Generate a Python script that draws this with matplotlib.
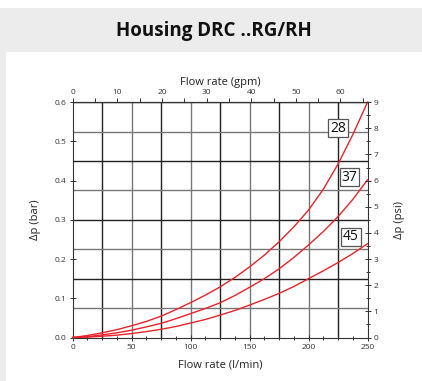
"""
Pressure drop chart: Housing DRC ..RG/RH
"""

import matplotlib

matplotlib.use("Agg")

import matplotlib.pyplot as plt
import numpy as np
from matplotlib.patches import Rectangle
from matplotlib.ticker import MultipleLocator, FormatStrFormatter

plt.rcParams["font.family"] = ["Open Sans", "DejaVu Sans"]

TITLE = "Housing DRC ..RG/RH"

flow_lpm = [0, 12.5, 25, 37.5, 50, 62.5, 75, 87.5, 100, 112.5, 125,
            137.5, 150, 162.5, 175, 187.5, 200, 212.5, 225, 237.5, 250]

# pressure drop (bar) per housing size
dp_28 = [0, 0.005, 0.012, 0.020, 0.030, 0.041, 0.0545, 0.071, 0.089, 0.108, 0.129,
         0.153, 0.180, 0.210, 0.244, 0.282, 0.325, 0.378, 0.442, 0.517, 0.600]
dp_37 = [0, 0.002, 0.0067, 0.012, 0.0187, 0.027, 0.036, 0.048, 0.061, 0.074, 0.0885,
         0.107, 0.128, 0.150, 0.175, 0.204, 0.236, 0.270, 0.308, 0.352, 0.402]
dp_45 = [0, 0.001, 0.0033, 0.006, 0.010, 0.015, 0.021, 0.028, 0.037, 0.046, 0.057,
         0.069, 0.0826, 0.097, 0.1125, 0.130, 0.150, 0.170, 0.191, 0.214, 0.239]

curve_names = ["28", "37", "45"]
# label box positions (l/min, bar)
label_x = [225, 234.5, 236]
label_y = [0.534, 0.409, 0.257]

RED = "#e8232b"
BG = "#ececec"
INK = "#333333"


def main() -> None:
    fig = plt.figure(figsize=(4.22, 3.81), dpi=100)
    fig.patch.set_facecolor("white")

    # header band and left strip
    fig.add_artist(Rectangle((0, 1 - 52 / 381), 1, 44 / 381, transform=fig.transFigure,
                             facecolor=BG, edgecolor="none", zorder=0))
    fig.add_artist(Rectangle((0, 0), 6 / 422, 1 - 52 / 381, transform=fig.transFigure,
                             facecolor=BG, edgecolor="none", zorder=0))
    fig.text(0.507, 1 - 31 / 381, TITLE, ha="center", va="center",
             fontsize=13.5, fontweight="bold", color="#111111")

    ax = fig.add_axes([72.7 / 422, 1 - 337.5 / 381, 294.8 / 422, 235.3 / 381])

    # grid: alternating dark / grey lines
    for i, x in enumerate(np.arange(25, 250, 25)):
        ax.axvline(x, color="#222222" if i % 2 == 0 else "#777777", lw=1.0, zorder=1)
    for i, y in enumerate(np.arange(0.075, 0.6, 0.075)):
        ax.axhline(y, color="#777777" if i % 2 == 0 else "#222222", lw=1.0, zorder=1)

    for dp in (dp_28, dp_37, dp_45):
        ax.plot(flow_lpm, dp, color=RED, lw=1.0, zorder=3, clip_on=False)

    for name, lx, ly in zip(curve_names, label_x, label_y):
        ax.text(lx, ly, name, ha="center", va="center", fontsize=10, color="#111111", zorder=4,
                bbox=dict(boxstyle="square,pad=0.12", facecolor="white",
                          edgecolor="#555555", linewidth=0.9))

    ax.set_xlim(0, 250)
    ax.set_ylim(0, 0.6)
    ax.xaxis.set_major_locator(MultipleLocator(50))
    ax.xaxis.set_minor_locator(MultipleLocator(12.5))
    ax.yaxis.set_major_locator(MultipleLocator(0.1))
    ax.yaxis.set_major_formatter(FormatStrFormatter("%.1f"))
    ax.tick_params(axis="both", which="both", direction="inout", colors=INK,
                   labelsize=6, width=0.7)
    ax.tick_params(axis="both", which="major", length=5, pad=2)
    ax.tick_params(axis="both", which="minor", length=3)
    ax.set_xlabel("Flow rate (l/min)", fontsize=8, color="#222222", labelpad=6)
    ax.set_ylabel("Δp (bar)", fontsize=8, color="#222222", labelpad=10)
    for spine in ax.spines.values():
        spine.set_color(INK)
        spine.set_linewidth(0.8)

    # top axis in gpm
    top = ax.secondary_xaxis("top", functions=(lambda q: q / 3.785, lambda g: g * 3.785))
    top.xaxis.set_major_locator(MultipleLocator(10))
    top.xaxis.set_minor_locator(MultipleLocator(5))
    top.tick_params(axis="x", which="both", direction="out", colors=INK, labelsize=6,
                    width=0.7, length=3, pad=1.5)
    top.set_xlabel("Flow rate (gpm)", fontsize=8, color="#222222", labelpad=3)
    top.spines["top"].set_color(INK)

    # right axis in psi
    right = ax.twinx()
    right.set_ylim(0, 9)
    right.yaxis.set_major_locator(MultipleLocator(1))
    right.yaxis.set_minor_locator(MultipleLocator(0.5))
    right.tick_params(axis="y", which="both", direction="inout", colors=INK, labelsize=6,
                      width=0.7)
    right.tick_params(axis="y", which="major", length=5, pad=2)
    right.tick_params(axis="y", which="minor", length=3)
    right.set_ylabel("Δp (psi)", fontsize=8, color="#222222", labelpad=11)
    for spine in right.spines.values():
        spine.set_visible(False)

    fig.savefig("out.png", dpi=100)
    plt.close(fig)


if __name__ == "__main__":
    main()
